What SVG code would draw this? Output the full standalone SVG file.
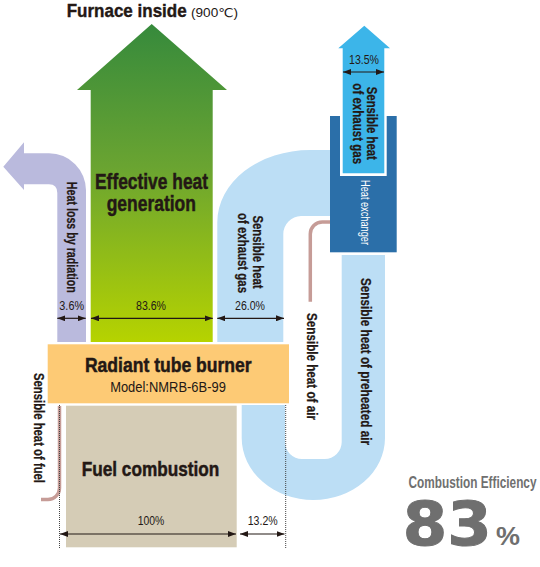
<svg xmlns="http://www.w3.org/2000/svg" width="540" height="567" viewBox="0 0 540 567">
<defs>
<linearGradient id="gGreen" gradientUnits="userSpaceOnUse" x1="0" y1="24" x2="0" y2="342">
<stop offset="0" stop-color="#368a3c"/>
<stop offset="0.45" stop-color="#6aa431"/>
<stop offset="1" stop-color="#b6d300"/>
</linearGradient>
<marker id="ah" markerUnits="userSpaceOnUse" viewBox="0 0 8 6" markerWidth="8" markerHeight="6" refX="8" refY="3" orient="auto-start-reverse">
<path d="M0,0 L8,3 L0,6 Z" fill="#231815"/>
</marker>
</defs>
<style>
text{font-family:"Liberation Sans","DejaVu Sans",sans-serif;fill:#231815}
.b{font-weight:bold}
.big{font-size:21px;font-weight:bold;stroke:#231815;stroke-width:0.5}
.lbl{font-size:15px;font-weight:bold;stroke:#231815;stroke-width:0.25}
.pct{font-size:13px}
.dim{stroke:#231815;stroke-width:1.2;fill:none;marker-start:url(#ah);marker-end:url(#ah)}
.dot{stroke:#444;stroke-width:1;stroke-dasharray:1 1;fill:none}
.pink{stroke:#c69c97;stroke-width:3.5;fill:none}
</style>

<g id="title">
<text x="66.7" y="16.7" class="b" style="font-size:19px;stroke:#231815;stroke-width:0.4" textLength="120" lengthAdjust="spacingAndGlyphs">Furnace inside</text>
<text x="191" y="16.7" style="font-size:12px" textLength="47" lengthAdjust="spacingAndGlyphs">(900℃)</text>
</g>

<g id="effective-heat">
<path d="M90.7,342 V90 H77 L151.7,24 L227,90 H212.7 V342 Z" fill="url(#gGreen)"/>
<text x="151.5" y="189.3" class="b" style="font-size:22px;stroke:#231815;stroke-width:0.5" text-anchor="middle" textLength="113" lengthAdjust="spacingAndGlyphs">Effective heat</text>
<text x="151.3" y="210.8" class="b" style="font-size:22px;stroke:#231815;stroke-width:0.5" text-anchor="middle" textLength="89.3" lengthAdjust="spacingAndGlyphs">generation</text>
<text x="151" y="310" class="pct" text-anchor="middle" textLength="30" lengthAdjust="spacingAndGlyphs">83.6%</text>
</g>

<g id="heat-loss">
<path d="M57.3,342 V193 Q57.3,184.3 49,184.3 H24 V190 L3.3,166.7 L24,142.3 V153.3 H49 A37 37 0 0 1 86,190.3 V342 Z" fill="#babadd"/>
<text transform="translate(67.4,237.3) rotate(90)" class="lbl" text-anchor="middle" textLength="111" lengthAdjust="spacingAndGlyphs">Heat loss by radiation</text>
<text x="71.7" y="310" class="pct" text-anchor="middle" textLength="24.7" lengthAdjust="spacingAndGlyphs">3.6%</text>
</g>

<g id="exhaust-gas">
<path d="M217.3,342 V222 A92.7 72 0 0 1 310,150 H331 V216 H301 A18 18 0 0 0 283.3,234 V342 Z" fill="#bcdef5"/>
<text transform="translate(252.5,252) rotate(90)" class="lbl" text-anchor="middle" textLength="73" lengthAdjust="spacingAndGlyphs">Sensible heat</text>
<text transform="translate(237.8,253) rotate(90)" class="lbl" text-anchor="middle" textLength="80" lengthAdjust="spacingAndGlyphs">of exhaust gas</text>
<text x="250" y="310" class="pct" text-anchor="middle" textLength="30" lengthAdjust="spacingAndGlyphs">26.0%</text>
</g>

<g id="preheated-air">
<path d="M241.7,405 V438 A71.65 62 0 0 0 385,438 V255 H341.7 V442 A17 17 0 0 1 324.7,459 H302 A17 17 0 0 1 285,442 V405 Z" fill="#bcdef5"/>
<text transform="translate(361.2,361.5) rotate(90)" class="lbl" text-anchor="middle" textLength="167" lengthAdjust="spacingAndGlyphs">Sensible heat of preheated air</text>
</g>

<g id="heat-exchanger">
<rect x="330" y="116" width="66.7" height="136.3" fill="#2b6fa9"/>
<text transform="translate(360.5,212.5) rotate(90)" style="font-size:12px;fill:#ffffff" text-anchor="middle" textLength="65" lengthAdjust="spacingAndGlyphs">Heat exchanger</text>
</g>

<g id="exhaust-out">
<rect x="340" y="116" width="46.7" height="60" fill="#ffffff"/>
<path d="M342.7,173.3 V48.3 H338.3 L364.3,25.7 L390,48.3 H384.3 V173.3 Z" fill="#3cb5e9"/>
<text x="364" y="64.3" class="pct" text-anchor="middle" textLength="30" lengthAdjust="spacingAndGlyphs">13.5%</text>
<text transform="translate(367.3,123.3) rotate(90)" class="lbl" text-anchor="middle" textLength="73" lengthAdjust="spacingAndGlyphs">Sensible heat</text>
<text transform="translate(352.6,123.7) rotate(90)" class="lbl" text-anchor="middle" textLength="80.7" lengthAdjust="spacingAndGlyphs">of exhaust gas</text>
</g>

<g id="burner">
<rect x="47.7" y="344.3" width="241.3" height="59" fill="#fdca75"/>
<text x="168.3" y="371.7" class="big" text-anchor="middle" textLength="166.7" lengthAdjust="spacingAndGlyphs">Radiant tube burner</text>
<text x="168" y="392.3" style="font-size:15px" text-anchor="middle" textLength="115.7" lengthAdjust="spacingAndGlyphs">Model:NMRB-6B-99</text>
</g>

<g id="fuel-combustion">
<rect x="66" y="405.7" width="170.7" height="141.6" fill="#d5ccb6"/>
<text x="150.5" y="475.7" class="big" text-anchor="middle" textLength="137.6" lengthAdjust="spacingAndGlyphs">Fuel combustion</text>
<text x="151" y="525.3" class="pct" text-anchor="middle" textLength="26.6" lengthAdjust="spacingAndGlyphs">100%</text>
<text x="262.7" y="525.3" class="pct" text-anchor="middle" textLength="30" lengthAdjust="spacingAndGlyphs">13.2%</text>
</g>

<g id="fuel-heat">
<path class="pink" d="M59.5,406 V488 A11.5 11.5 0 0 1 48,499.5 H41"/>
<text transform="translate(34,428) rotate(90)" class="lbl" text-anchor="middle" textLength="110" lengthAdjust="spacingAndGlyphs">Sensible heat of fuel</text>
</g>

<g id="air-heat">
<path class="pink" d="M310.3,301.7 V234 A12 12 0 0 1 322.3,222 H330"/>
<text transform="translate(306.5,366.5) rotate(90)" class="lbl" text-anchor="middle" textLength="107" lengthAdjust="spacingAndGlyphs">Sensible heat of air</text>
</g>

<g id="connectors">
<line class="dot" x1="59.5" y1="405" x2="59.5" y2="548"/>
<line class="dot" x1="285.7" y1="405" x2="285.7" y2="548"/>
<line class="dim" x1="57.3" y1="318.3" x2="85.7" y2="318.3"/>
<line class="dim" x1="91" y1="318.3" x2="212.7" y2="318.3"/>
<line class="dim" x1="217.3" y1="318.3" x2="284" y2="318.3"/>
<line class="dim" x1="60" y1="534" x2="236" y2="534"/>
<line class="dim" x1="240" y1="534" x2="284.5" y2="534"/>
<line class="dim" x1="343" y1="72" x2="384" y2="72"/>
</g>

<g id="efficiency">
<text x="408.5" y="488.3" class="b" style="font-size:16px;fill:#707070" textLength="128" lengthAdjust="spacingAndGlyphs">Combustion Efficiency</text>
<text x="402.7" y="545" style="font-family:'DejaVu Sans',sans-serif;font-weight:bold;font-size:60px;fill:#6f6f6f;stroke:#6f6f6f;stroke-width:1" textLength="89" lengthAdjust="spacingAndGlyphs">83</text>
<text x="496" y="545" class="b" style="font-size:26px;fill:#6f6f6f" textLength="24" lengthAdjust="spacingAndGlyphs">%</text>
</g>
</svg>
